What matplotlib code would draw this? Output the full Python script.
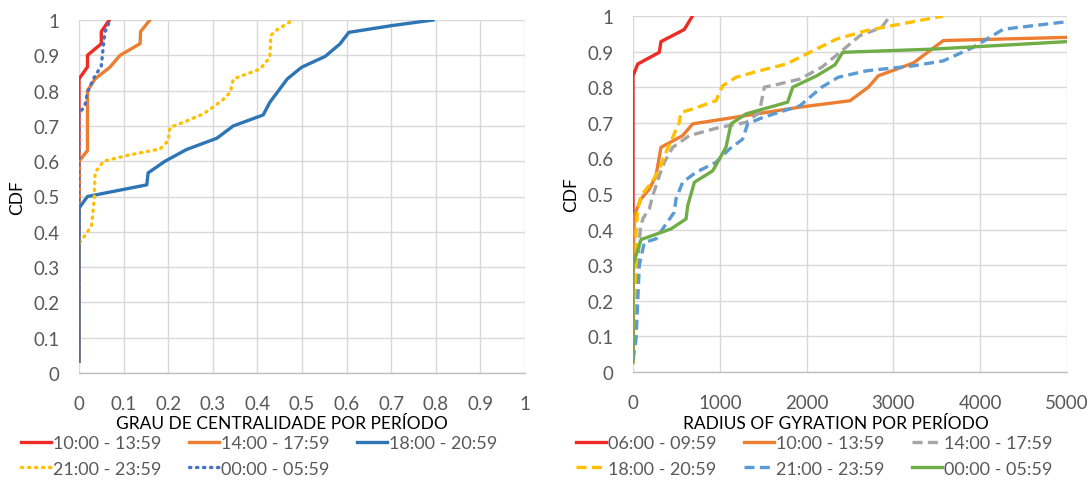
import matplotlib
matplotlib.use("Agg")
import matplotlib.pyplot as plt

plt.rcParams['font.family'] = ['Lato', 'DejaVu Sans']

# ---------------- Left chart data (GRAU DE CENTRALIDADE) ----------------
left_labels = ["10:00 - 13:59", "14:00 - 17:59", "18:00 - 20:59", "21:00 - 23:59", "00:00 - 05:59"]

l_red_x = [0, 0, 0, 0.019, 0.019, 0.05, 0.05, 0.068]
l_red_y = [0.033, 0.6, 0.833, 0.867, 0.9, 0.933, 0.967, 1.0]

l_orange_x = [0, 0, 0.019, 0.019, 0.036, 0.069, 0.092, 0.137, 0.138, 0.159]
l_orange_y = [0.033, 0.6, 0.63, 0.8, 0.833, 0.866, 0.9, 0.933, 0.967, 1.0]

l_blue_x = [0, 0, 0.019, 0.152, 0.155, 0.193, 0.241, 0.309, 0.346, 0.413, 0.428,
            0.467, 0.499, 0.552, 0.585, 0.605, 0.701, 0.794]
l_blue_y = [0.033, 0.467, 0.5, 0.533, 0.567, 0.6, 0.633, 0.665, 0.7, 0.731, 0.767,
            0.833, 0.866, 0.897, 0.932, 0.965, 0.984, 1.0]

l_yellow_x = [0, 0, 0.01, 0.019, 0.028, 0.034, 0.036, 0.055, 0.107, 0.182, 0.2, 0.204,
              0.234, 0.279, 0.32, 0.339, 0.346, 0.406, 0.428, 0.43, 0.441, 0.48]
l_yellow_y = [0.033, 0.367, 0.384, 0.4, 0.417, 0.49, 0.568, 0.6, 0.616, 0.635, 0.658, 0.696,
              0.71, 0.734, 0.771, 0.795, 0.833, 0.861, 0.894, 0.956, 0.97, 1.0]

l_bdot_x = [0, 0, 0.013, 0.019, 0.032, 0.05, 0.055, 0.058, 0.07]
l_bdot_y = [0.033, 0.734, 0.757, 0.795, 0.833, 0.87, 0.932, 0.965, 1.0]

left_ticks = [0, 0.1, 0.2, 0.3, 0.4, 0.5, 0.6, 0.7, 0.8, 0.9, 1]
left_ticklabels = ["0", "0.1", "0.2", "0.3", "0.4", "0.5", "0.6", "0.7", "0.8", "0.9", "1"]

# ---------------- Right chart data (RADIUS OF GYRATION) ----------------
right_labels = ["06:00 - 09:59", "10:00 - 13:59", "14:00 - 17:59", "18:00 - 20:59", "21:00 - 23:59", "00:00 - 05:59"]

r_red_x = [0, 0, 54, 303, 322, 590, 685]
r_red_y = [0.033, 0.832, 0.865, 0.898, 0.928, 0.962, 1.0]

r_orange_x = [0, 0, 15, 92, 188, 265, 322, 572, 688, 1924, 2500, 2711, 2826, 3230, 3575, 5000]
r_orange_y = [0.033, 0.3, 0.44, 0.486, 0.514, 0.551, 0.631, 0.664, 0.697, 0.744, 0.762, 0.8,
              0.832, 0.868, 0.931, 0.94]

r_gray_x = [0, 50, 84, 112, 188, 227, 303, 361, 457, 649, 994, 1302, 1455, 1513, 1686, 1924,
            2174, 2385, 2615, 2865, 2961]
r_gray_y = [0.033, 0.3, 0.4, 0.43, 0.458, 0.495, 0.551, 0.589, 0.631, 0.664, 0.687, 0.701,
            0.729, 0.8, 0.809, 0.823, 0.856, 0.898, 0.945, 0.968, 1.0]

r_yellow_x = [0, 35, 35, 54, 92, 227, 303, 380, 457, 533, 553, 688, 956, 1033, 1187, 1455,
              1763, 1924, 2343, 2689, 2880, 3575]
r_yellow_y = [0.033, 0.3, 0.392, 0.458, 0.495, 0.537, 0.57, 0.617, 0.659, 0.701, 0.729, 0.739,
              0.762, 0.804, 0.828, 0.846, 0.865, 0.884, 0.935, 0.959, 0.968, 1.0]

r_bdash_x = [0, 35, 73, 130, 265, 342, 476, 495, 572, 726, 956, 1110, 1263, 1321, 1494, 1924,
             2174, 2365, 2689, 3230, 3575, 3920, 4267, 5000]
r_bdash_y = [0.033, 0.093, 0.3, 0.364, 0.374, 0.402, 0.449, 0.486, 0.533, 0.561, 0.589, 0.626,
             0.654, 0.697, 0.715, 0.748, 0.8, 0.828, 0.846, 0.86, 0.874, 0.912, 0.963, 0.984]

r_green_x = [0, 0, 92, 438, 611, 630, 707, 918, 1071, 1129, 1302, 1782, 1840, 2116, 2327, 2416,
             3460, 5000]
r_green_y = [0.027, 0.3, 0.372, 0.402, 0.43, 0.467, 0.533, 0.565, 0.631, 0.697, 0.725, 0.758,
             0.8, 0.832, 0.863, 0.898, 0.907, 0.928]

right_ticks = [0, 1000, 2000, 3000, 4000, 5000]
right_ticklabels = ["0", "1000", "2000", "3000", "4000", "5000"]
y_ticks = [0, 0.1, 0.2, 0.3, 0.4, 0.5, 0.6, 0.7, 0.8, 0.9, 1]
y_ticklabels = ["0", "0.1", "0.2", "0.3", "0.4", "0.5", "0.6", "0.7", "0.8", "0.9", "1"]

# ---------------- Styles ----------------
RED = '#EE2B24'
ORANGE = '#ED7D31'
BLUE = '#2E75B6'
YELLOW = '#FFC000'
BLUE2 = '#4472C4'
GRAY = '#A5A5A5'
BLUE3 = '#5B9BD5'
GREEN = '#70AD47'
LW = 2.4
DOT = (0, (0.4, 1.7))
DASH = (0, (3.0, 1.6))

TICK_COLOR = '#595959'
GRID_COLOR = '#D9D9D9'
TICK_FS = 13.5
LABEL_FS = 12.5
LEG_FS = 13

fig = plt.figure(figsize=(10.92, 4.81), dpi=100)
ax1 = fig.add_axes([79/1092, 1-374/481, (525-79)/1092, (374-21)/481])
ax2 = fig.add_axes([633/1092, 1-373/481, (1067-633)/1092, (373-17)/481])

def style(ax, xticks, xticklabels, xmax):
    ax.set_xlim(0, xmax)
    ax.set_ylim(0, 1)
    ax.set_xticks(xticks)
    ax.set_xticklabels(xticklabels)
    ax.set_yticks(y_ticks)
    ax.set_yticklabels(y_ticklabels)
    ax.grid(True, color=GRID_COLOR, linewidth=1.0)
    ax.set_axisbelow(True)
    for s in ['top', 'right', 'left']:
        ax.spines[s].set_visible(False)
    ax.spines['bottom'].set_color('#BFBFBF')
    ax.spines['bottom'].set_linewidth(1.0)
    ax.tick_params(axis='both', length=0, labelsize=TICK_FS, labelcolor=TICK_COLOR)
    ax.tick_params(axis='x', pad=16)
    ax.tick_params(axis='y', pad=14)
    ax.set_ylabel("CDF", fontsize=LABEL_FS, color='black', labelpad=6)

# Left
h = []
h.append(ax1.plot(l_red_x, l_red_y, color=RED, lw=LW, solid_joinstyle='round')[0])
h.append(ax1.plot(l_orange_x, l_orange_y, color=ORANGE, lw=LW, solid_joinstyle='round')[0])
h.append(ax1.plot(l_blue_x, l_blue_y, color=BLUE, lw=LW, solid_joinstyle='round')[0])
h.append(ax1.plot(l_yellow_x, l_yellow_y, color=YELLOW, lw=LW, linestyle=DOT, dash_capstyle='round')[0])
h.append(ax1.plot(l_bdot_x, l_bdot_y, color=BLUE2, lw=LW, linestyle=DOT, dash_capstyle='round')[0])
style(ax1, left_ticks, left_ticklabels, 1)
ax1.set_xlabel("GRAU DE CENTRALIDADE POR PERÍODO", fontsize=LABEL_FS, color='black')
ax1.xaxis.set_label_coords(0.455, -0.118)

order = [0, 3, 1, 4, 2]
fig.legend([h[i] for i in order], [left_labels[i] for i in order], ncol=3, loc='center left',
           bbox_to_anchor=(21/1092, 1-457/481), frameon=False, fontsize=LEG_FS,
           handlelength=1.65, handletextpad=0.1, columnspacing=1.55, labelspacing=0.5,
           borderpad=0, borderaxespad=0, labelcolor=TICK_COLOR)

# Right
g = []
g.append(ax2.plot(r_red_x, r_red_y, color=RED, lw=LW, solid_joinstyle='round')[0])
g.append(ax2.plot(r_orange_x, r_orange_y, color=ORANGE, lw=LW, solid_joinstyle='round')[0])
g.append(ax2.plot(r_gray_x, r_gray_y, color=GRAY, lw=LW, linestyle=DASH)[0])
g.append(ax2.plot(r_yellow_x, r_yellow_y, color=YELLOW, lw=LW, linestyle=DASH)[0])
g.append(ax2.plot(r_bdash_x, r_bdash_y, color=BLUE3, lw=LW, linestyle=DASH)[0])
g.append(ax2.plot(r_green_x, r_green_y, color=GREEN, lw=LW, solid_joinstyle='round')[0])
style(ax2, right_ticks, right_ticklabels, 5000)
ax2.set_xlabel("RADIUS OF GYRATION POR PERÍODO", fontsize=LABEL_FS, color='black')
ax2.xaxis.set_label_coords(0.468, -0.121)

order2 = [0, 3, 1, 4, 2, 5]
fig.legend([g[i] for i in order2], [right_labels[i] for i in order2], ncol=3, loc='center left',
           bbox_to_anchor=(576/1092, 1-457/481), frameon=False, fontsize=LEG_FS,
           handlelength=1.65, handletextpad=0.1, columnspacing=1.55, labelspacing=0.5,
           borderpad=0, borderaxespad=0, labelcolor=TICK_COLOR)

fig.savefig("out.png", dpi=100)
